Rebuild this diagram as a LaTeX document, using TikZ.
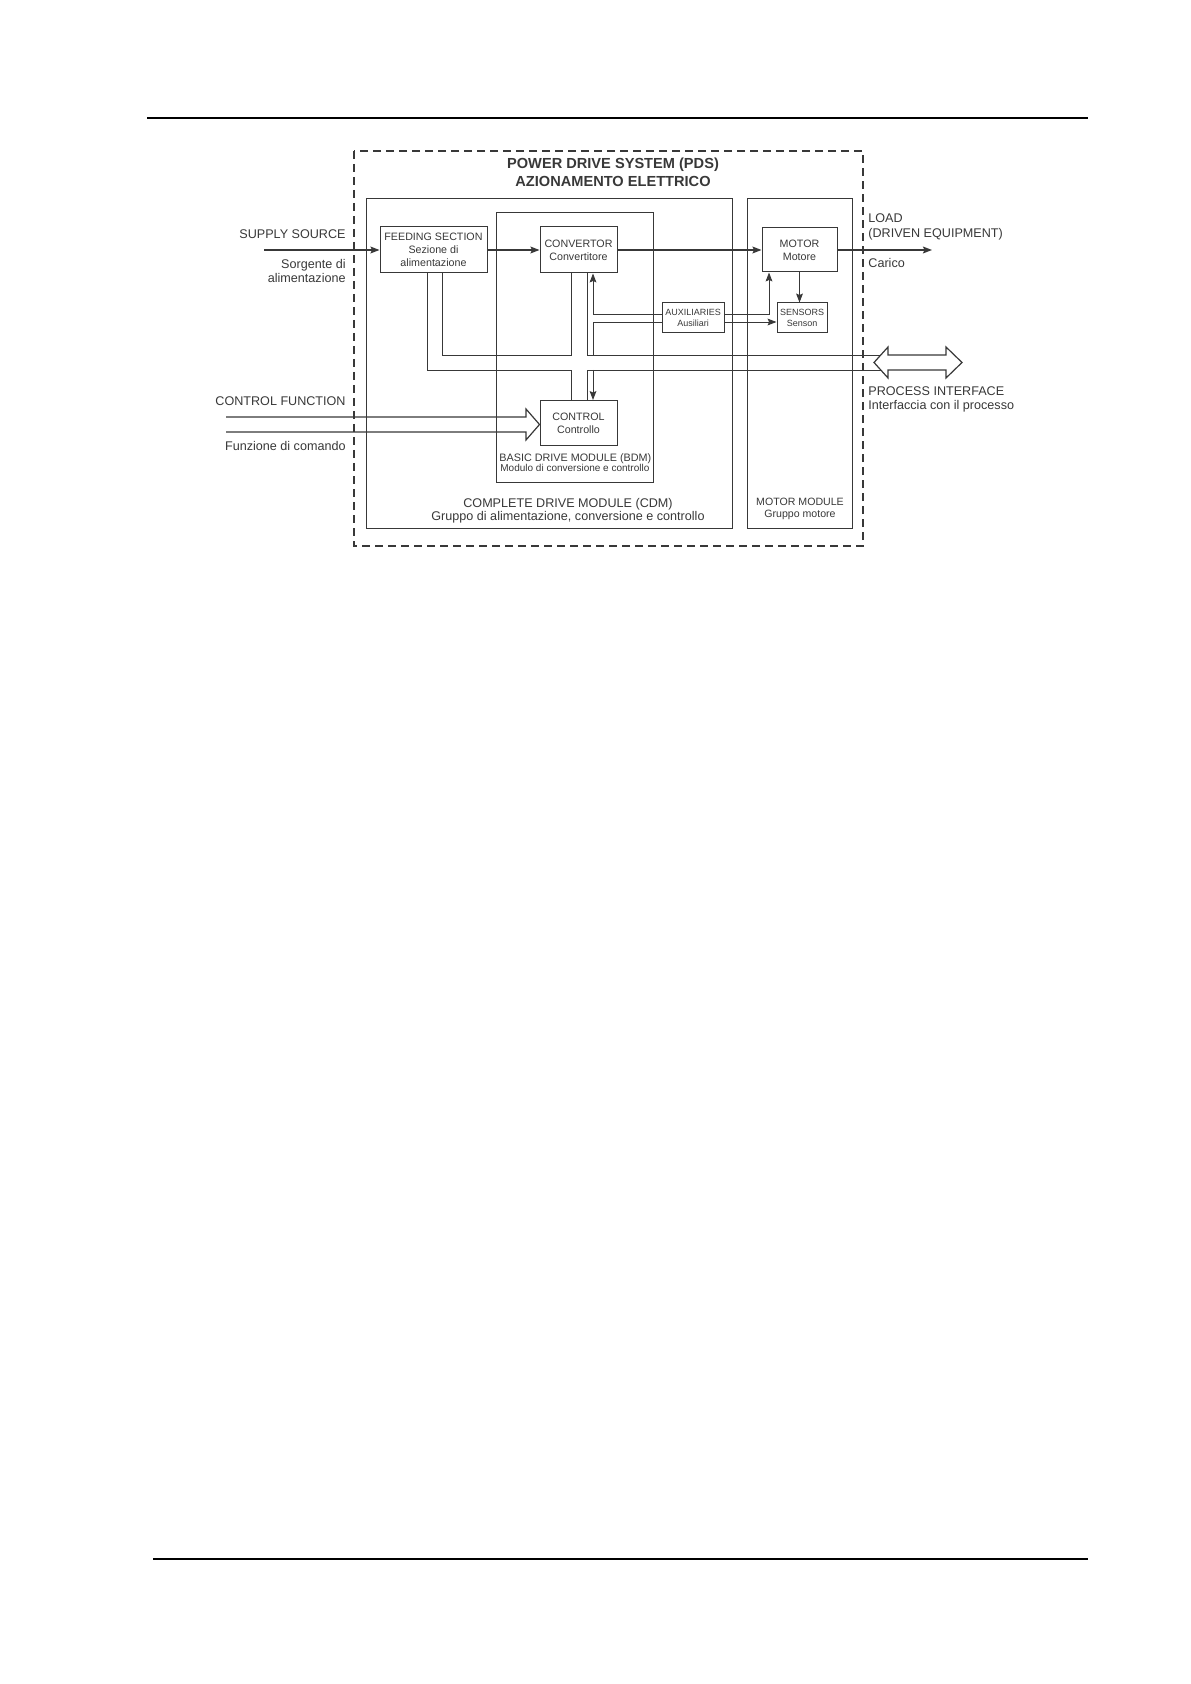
\documentclass[tikz,border=0pt]{standalone}
\usepackage{fontspec}
\setmainfont{Liberation Sans}
\usetikzlibrary{arrows.meta}
\definecolor{ink}{HTML}{383838}
\begin{document}
\begin{tikzpicture}[x=0.5pt,y=-0.5pt,
  lbl/.style={inner sep=0, text=ink, font=\fontsize{6.3}{7}\selectfont},
  box/.style={draw=ink, line width=0.5pt, inner sep=0, align=center, text=ink, font=\fontsize{5.35}{6.5}\selectfont},
  sbox/.style={box, font=\fontsize{4.5}{5.5}\selectfont},
  wire/.style={draw=ink, line width=0.45pt},
  pw/.style={draw=ink, line width=0.75pt},
  arr/.style={-{Stealth[length=4.5pt,width=3.4pt,inset=0.8pt]}},
  rule/.style={draw=black, line width=0.75pt},
  title/.style={inner sep=0, text=ink, font=\bfseries\fontsize{7.3}{8}\selectfont}
]
\useasboundingbox (0,0) rectangle (1190,1684);

% page rules
\coordinate (r1a) at (147,118); \coordinate (r1b) at (1088,118);
\coordinate (r2a) at (153,1559); \coordinate (r2b) at (1088,1559);
\draw[rule] (r1a) -- (r1b);
\draw[rule] (r2a) -- (r2b);

% containers
\draw[ink, line width=0.7pt, dash pattern=on 4pt off 2.5pt] (354,151) rectangle (863,546);
\draw[wire] (366,198) rectangle (732,528);
\draw[wire] (496,212) rectangle (653,482);
\draw[wire] (747,198) rectangle (852,528);

% title
\node[title, anchor=base] (t1) at (613,169) {POWER DRIVE SYSTEM (PDS)};
\node[title, anchor=base] (t2) at (613,187) {AZIONAMENTO ELETTRICO};

% blocks
\node[box, minimum width=53.5pt, minimum height=23pt] (feed) at (433.5,250) {FEEDING SECTION\\Sezione di\\alimentazione};
\node[box, minimum width=38.5pt, minimum height=23pt] (conv) at (578.5,250) {CONVERTOR\\Convertitore};
\node[box, minimum width=37.5pt, minimum height=22pt] (motor) at (799.5,250) {MOTOR\\Motore};
\node[sbox, minimum width=31pt, minimum height=15pt] (aux) at (693,318) {AUXILIARIES\\Ausiliari};
\node[sbox, minimum width=25pt, minimum height=15pt] (sens) at (802,318) {SENSORS\\Senson};
\node[box, minimum width=38.5pt, minimum height=22.5pt] (ctrl) at (578.5,423) {CONTROL\\Controllo};

% power path
\coordinate (src) at (264,250);
\coordinate (load) at (932,250);
\draw[pw,arr] (src) -- (feed.west);
\draw[pw,arr] (feed.east) -- (conv.west);
\draw[pw,arr] (conv.east) -- (motor.west);
\draw[pw,arr] (motor.east) -- (load);

% motor / sensors / auxiliaries
\draw[wire,arr] (motor.south) -- (motor.south |- sens.north);
\draw[wire,arr] (aux.east |- 0,314) -| (motor.south -| 769,0);
\draw[wire,arr] (aux.east |- 0,322) -- (sens.west |- 0,322);
\draw[wire,arr] (aux.west |- 0,314) -| (conv.south -| 593,0);
\draw[wire] (aux.west |- 0,322) -| (593,355);

% bus (double-line pipe)
\draw[wire] (feed.south -| 442,0) |- (571,355) -- (conv.south -| 571,0);
\draw[wire] (feed.south -| 427,0) |- (571,370) -- (ctrl.north -| 571,0);
\draw[wire] (conv.south -| 587,0) |- (880.5,355);
\draw[wire] (ctrl.north -| 587,0) |- (880.5,370);
\draw[wire,arr] (593,370) -- (ctrl.north -| 593,0);

% process interface double arrow
\coordinate (pif) at (874,362.5);
\draw[wire, line width=0.6pt, fill=white] (pif) -- (888,347) -- (888,355) -- (946,355) -- (946,347) -- (962,362.5) -- (946,378) -- (946,370) -- (888,370) -- (888,378) -- cycle;

% control function arrow
\coordinate (cftip) at (ctrl.west |- 0,424.5);
\draw[wire, line width=0.6pt] (226,417) -- (526,417) -- (526,409) -- (cftip) -- (526,440) -- (526,432) -- (226,432);

% labels
\node[lbl, anchor=base east] (ss1) at (346,239) {SUPPLY SOURCE};
\node[lbl, anchor=base east] (ss2) at (346,269) {Sorgente di};
\node[lbl, anchor=base east] (ss3) at (346,283) {alimentazione};
\node[lbl, anchor=base west] (ld1) at (868,223) {LOAD};
\node[lbl, anchor=base west] (ld2) at (868,238) {(DRIVEN EQUIPMENT)};
\node[lbl, anchor=base west] (ld3) at (868,268) {Carico};
\node[lbl, anchor=base west] (pi1) at (868,396) {PROCESS INTERFACE};
\node[lbl, anchor=base west] (pi2) at (868,409) {Interfaccia con il processo};
\node[lbl, anchor=base east] (cf1) at (346,406) {CONTROL FUNCTION};
\node[lbl, anchor=base east] (cf2) at (346,451) {Funzione di comando};
\node[lbl, anchor=base] (cdm1) at (568,507) {COMPLETE DRIVE MODULE (CDM)};
\node[lbl, anchor=base] (cdm2) at (568,520) {Gruppo di alimentazione, conversione e controllo};
\node[lbl, font=\fontsize{5.3}{6}\selectfont, anchor=base] (mm1) at (800,505) {MOTOR MODULE};
\node[lbl, font=\fontsize{5.3}{6}\selectfont, anchor=base] (mm2) at (800,517) {Gruppo motore};
\node[lbl, font=\fontsize{5.4}{6}\selectfont, anchor=base west] (bdm1) at (499,461) {BASIC DRIVE MODULE (BDM)};
\node[lbl, font=\fontsize{5.0}{6}\selectfont, anchor=base west] (bdm2) at (500,472) {Modulo di conversione e controllo};
\end{tikzpicture}
\end{document}
